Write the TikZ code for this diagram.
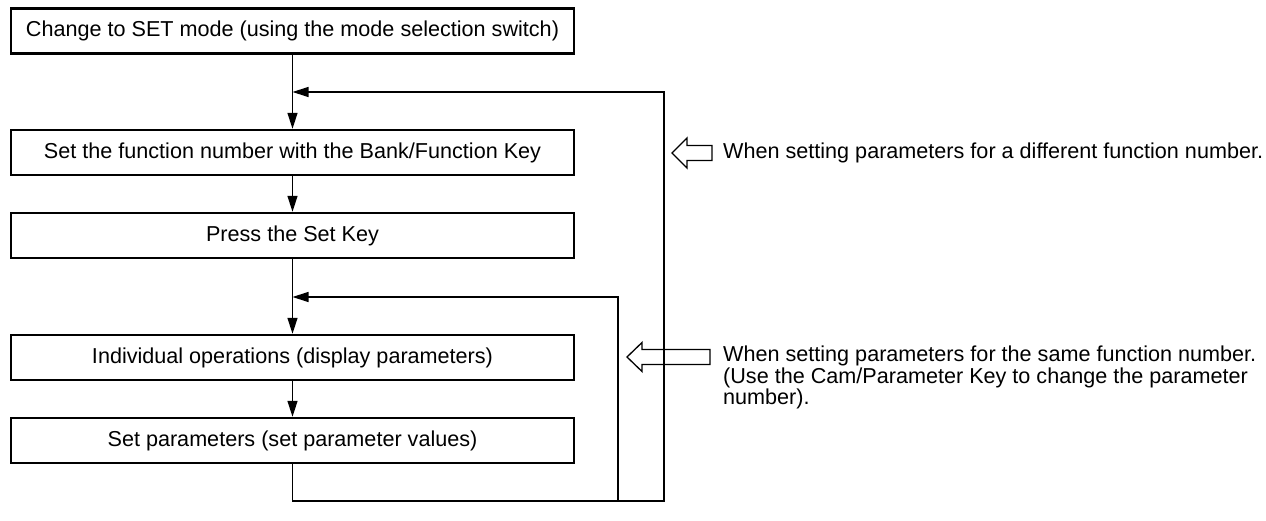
\documentclass[tikz,border=0pt]{standalone}
\usepackage{fontspec}
\setmainfont{Liberation Sans}
\usetikzlibrary{arrows.meta, positioning}

\begin{document}
\begin{tikzpicture}[x=1pt, y=-1pt,
    font=\fontsize{21.6pt}{21.5pt}\selectfont,
    stepbox/.style={draw, line width=2.4pt, minimum width=563pt, minimum height=45pt, inner sep=0pt},
    flow/.style={line width=1.3pt, -{Triangle[length=16pt, width=10pt]}},
    loopline/.style={line width=1.3pt},
    hollow/.style={line width=1.3pt, line join=miter},
    note/.style={inner sep=0pt, align=left}]
    \useasboundingbox (0,0) rectangle (1266,521);

    % boxes
    \node[stepbox] (b1) at (292.5,31) {Change to SET mode (using the mode selection switch)};
    \node[stepbox] (b2) at (292.5,152.5) {Set the function number with the Bank/Function Key};
    \node[stepbox] (b3) at (292.5,235.5) {Press the Set Key};
    \node[stepbox] (b4) at (292.5,357.5) {Individual operations (display parameters)};
    \node[stepbox] (b5) at (292.5,440.5) {Set parameters (set parameter values)};

    % joins and loop corners
    \coordinate (j1) at (292.5,92);
    \coordinate (j2) at (292.5,297);
    \coordinate (outer) at (664,501);
    \coordinate (inner) at (618,501);

    \draw[loopline] (b1.south) -- (j1);
    \draw[flow] (j1) -- (b2.north);
    \draw[flow] (b2.south) -- (b3.north);
    \draw[loopline] (b3.south) -- (j2);
    \draw[flow] (j2) -- (b4.north);
    \draw[flow] (b4.south) -- (b5.north);

    % return loops
    \draw[flow] (b5.south) |- (outer) |- (j1);
    \draw[flow] (inner) |- (j2);

    % hollow arrows
    \draw[hollow] (712,145.5) -- (687,145.5) -- (687,138) -- (672,153) -- (687,168) -- (687,160.5) -- (712,160.5) -- cycle;
    \draw[hollow] (710,349.5) -- (642,349.5) -- (642,342.5) -- (627,357) -- (642,371.5) -- (642,364.5) -- (710,364.5) -- cycle;

    % notes
    \node[note, anchor=west] (n1) at (723,153) {When setting parameters for a different function number.};
    \node[note, anchor=north west] (n2) at (723,346) {When setting parameters for the same function number.\\(Use the Cam/Parameter Key to change the parameter\\number).};
\end{tikzpicture}
\end{document}
